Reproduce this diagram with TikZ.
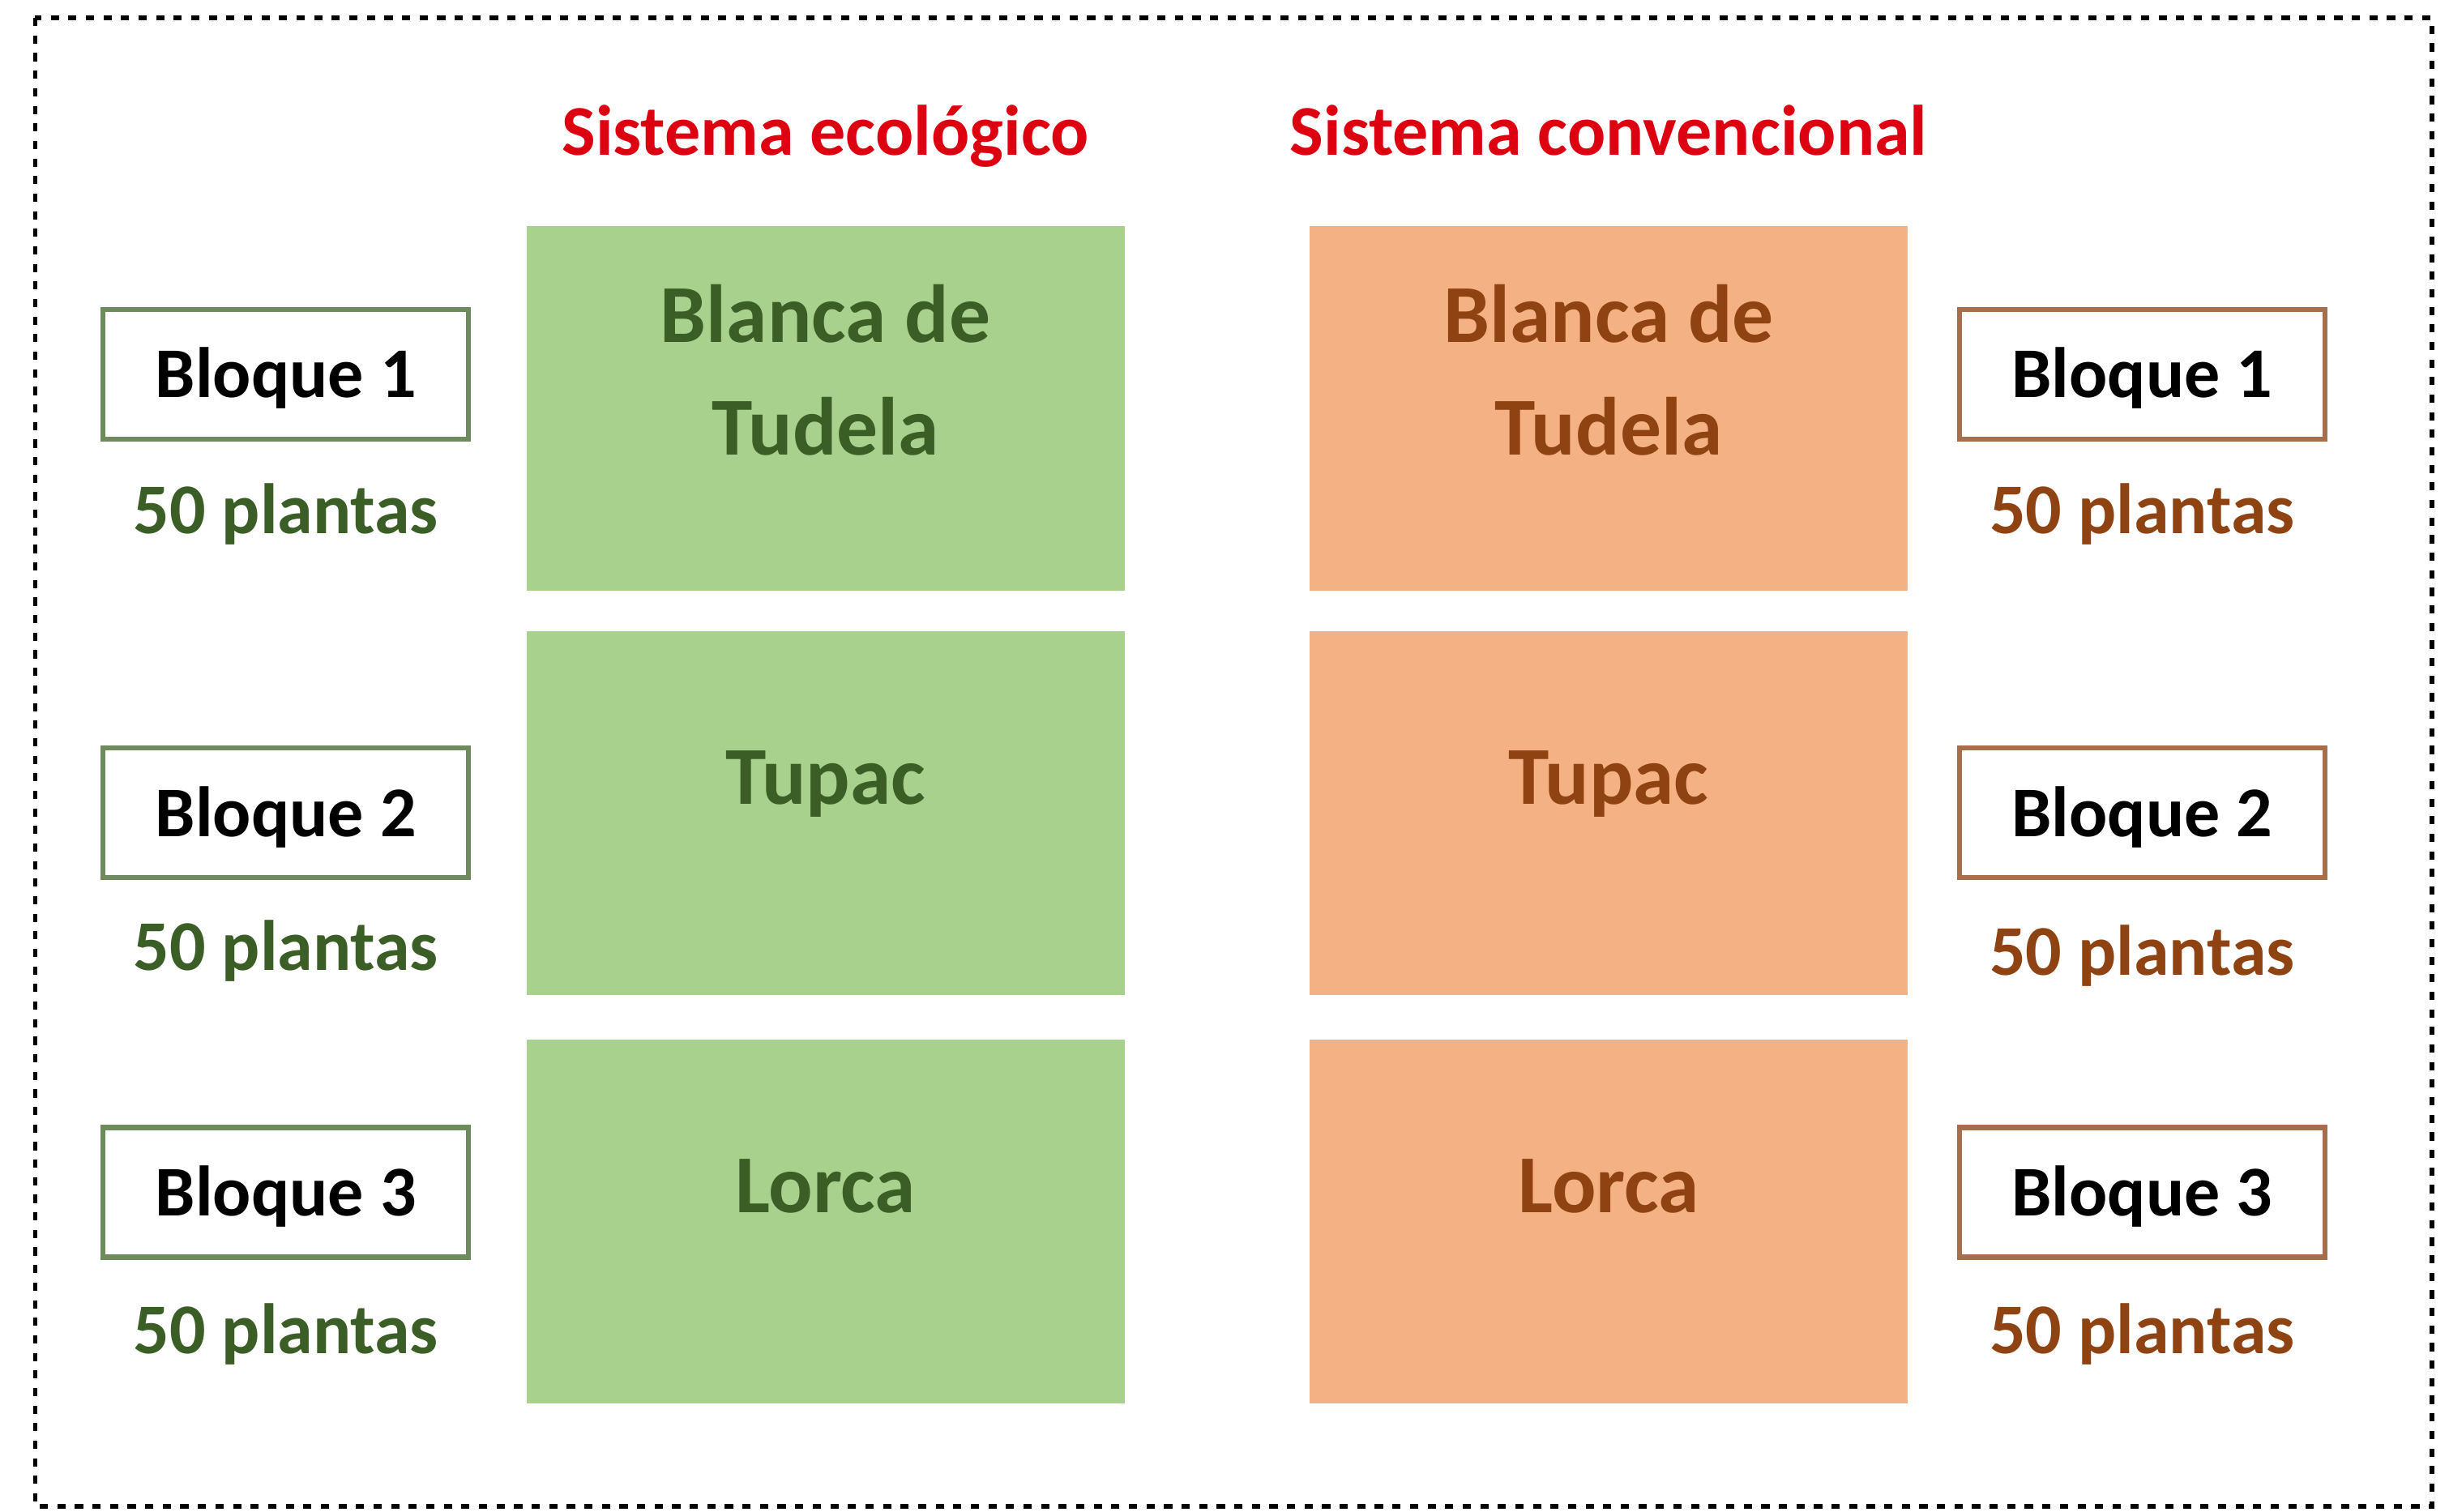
\documentclass[tikz,border=0pt]{standalone}
\usepackage{fontspec}
\setmainfont{Carlito}
\usetikzlibrary{positioning}
\definecolor{ecofill}{HTML}{A9D18E}
\definecolor{convfill}{HTML}{F4B183}
\definecolor{ecodark}{HTML}{3B5E26}
\definecolor{convdark}{HTML}{8F4312}
\definecolor{ecoline}{HTML}{6F8A5C}
\definecolor{convline}{HTML}{A66E4A}
\definecolor{titlered}{HTML}{DD0010}
\tikzset{field/.style={inner sep=0pt,minimum width=3.83cm,minimum height=2.33cm},
	 eco/.style={field,fill=ecofill},
	 conv/.style={field,fill=convfill},
	 fieldtext/.style={align=center,inner sep=0pt,font=\fontsize{15}{20.5}\selectfont\bfseries},
	 bloque/.style={draw,line width=0.9pt,fill=white,inner sep=0pt,minimum width=2.34cm,minimum height=0.83cm,text depth=0.02cm,font=\fontsize{13}{15}\selectfont\bfseries},
	 plantas/.style={inner sep=0pt,font=\fontsize{13}{15}\selectfont\bfseries},
	 titulo/.style={inner sep=0pt,text=titlered,font=\fontsize{13}{15}\selectfont\bfseries},
	 node distance = 0.25cm
	 }

\begin{document}
\begin{tikzpicture} % ensayo: dos sistemas, tres variedades, tres bloques
	\useasboundingbox (0,0) rectangle (15.68,-9.68);
	\draw[line width=0.8pt,dash pattern=on 1.5pt off 1.7pt] (0.225,-0.115) rectangle (15.57,-9.645);
	\node[eco] (e1) at (5.285,-2.615) {};
	\node[eco] (e2) [below=of e1] {};
	\node[eco] (e3) [below=0.27cm of e2] {};
	\node[conv] (c1) [right=1.17cm of e1] {};
	\node[conv] (c2) [right=1.17cm of e2] {};
	\node[conv] (c3) [right=1.17cm of e3] {};
	\node[titulo] (t1) [above=0.45cm of e1.north, anchor=base] {Sistema ecológico};
	\node[titulo] (t2) [above=0.45cm of c1.north, anchor=base] {Sistema convencional};
	\node[fieldtext,text=ecodark] (e1t) at ([yshift=0.245cm]e1.center) {Blanca de\\Tudela};
	\node[fieldtext,text=ecodark,anchor=base] (e2t) at ([yshift=0.06cm]e2.center) {Tupac};
	\node[fieldtext,text=ecodark,anchor=base] (e3t) at ([yshift=0.06cm]e3.center) {Lorca};
	\node[fieldtext,text=convdark] (c1t) at ([yshift=0.245cm]c1.center) {Blanca de\\Tudela};
	\node[fieldtext,text=convdark,anchor=base] (c2t) at ([yshift=0.06cm]c2.center) {Tupac};
	\node[fieldtext,text=convdark,anchor=base] (c3t) at ([yshift=0.06cm]c3.center) {Lorca};
	\node[bloque,draw=ecoline] (b1) at (1.83,-2.395) {Bloque 1};
	\node[bloque,draw=ecoline] (b2) at (1.83,-5.205) {Bloque 2};
	\node[bloque,draw=ecoline] (b3) at (1.83,-7.635) {Bloque 3};
	\node[bloque,draw=convline] (d1) at (13.715,-2.395) {Bloque 1};
	\node[bloque,draw=convline] (d2) at (13.715,-5.205) {Bloque 2};
	\node[bloque,draw=convline] (d3) at (13.715,-7.635) {Bloque 3};
	\node[plantas,text=ecodark] (p1) [below=0.59cm of b1.south, anchor=base] {50 plantas};
	\node[plantas,text=ecodark] (p2) [below=0.58cm of b2.south, anchor=base] {50 plantas};
	\node[plantas,text=ecodark] (p3) [below=0.6cm of b3.south, anchor=base] {50 plantas};
	\node[plantas,text=convdark] (q1) [below=0.59cm of d1.south, anchor=base] {50 plantas};
	\node[plantas,text=convdark] (q2) [below=0.61cm of d2.south, anchor=base] {50 plantas};
	\node[plantas,text=convdark] (q3) [below=0.6cm of d3.south, anchor=base] {50 plantas};
\end{tikzpicture}
\end{document}
